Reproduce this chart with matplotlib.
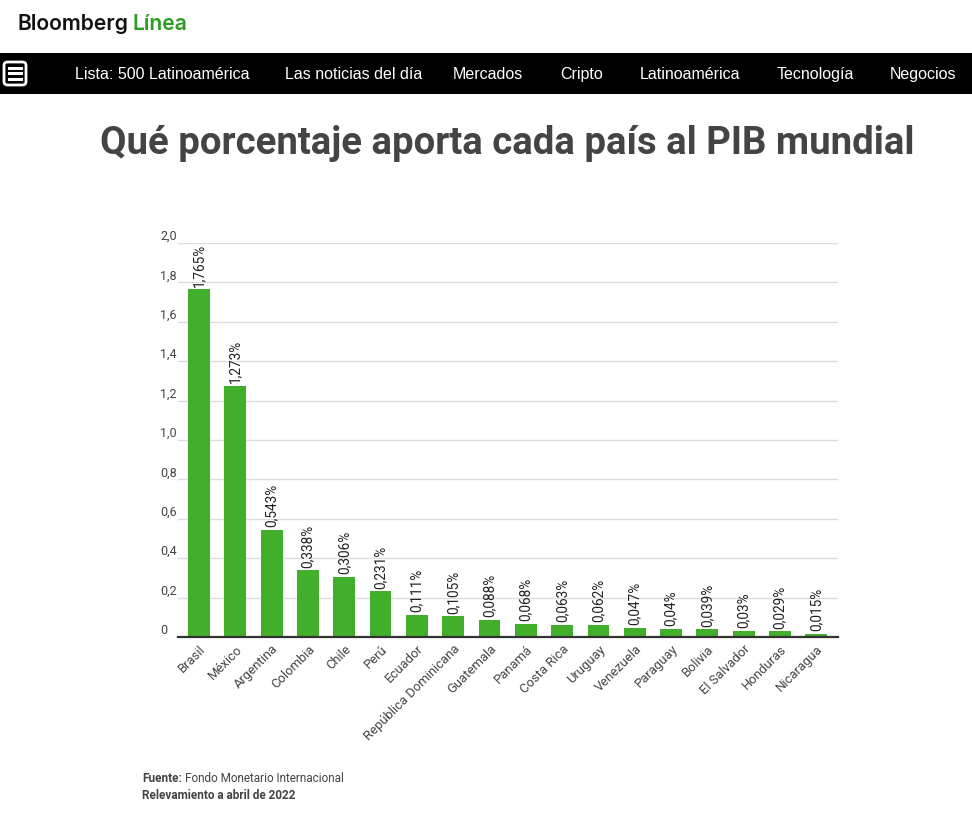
import matplotlib.pyplot as plt
from matplotlib.patches import Rectangle, FancyBboxPatch

# Data
countries = ['Brasil', 'México', 'Argentina', 'Colombia', 'Chile', 'Perú', 'Ecuador',
             'República Dominicana', 'Guatemala', 'Panamá', 'Costa Rica', 'Uruguay',
             'Venezuela', 'Paraguay', 'Bolivia', 'El Salvador', 'Honduras', 'Nicaragua']
pib_share = [1.765, 1.273, 0.543, 0.338, 0.306, 0.231, 0.111, 0.105, 0.088, 0.068,
             0.063, 0.062, 0.047, 0.04, 0.039, 0.03, 0.029, 0.015]
y_ticks = [0, 0.2, 0.4, 0.6, 0.8, 1.0, 1.2, 1.4, 1.6, 1.8, 2.0]
y_tick_labels = ['0', '0,2', '0,4', '0,6', '0,8', '1,0', '1,2', '1,4', '1,6', '1,8', '2,0']
nav_items = ['Lista: 500 Latinoamérica', 'Las noticias del día', 'Mercados', 'Cripto',
             'Latinoamérica', 'Tecnología', 'Negocios']
nav_x = [75, 285, 453, 560, 640, 777, 890]

W, H = 972, 816
fig = plt.figure(figsize=(W / 100, H / 100), dpi=100)
fig.patch.set_facecolor('white')


def fx(px):
    return px / W


def fy(py):
    return 1 - py / H


def text_after(first, gap_px, s, **kw):
    # place a second text on the same baseline, right after the first one
    renderer = fig.canvas.get_renderer()
    bb = first.get_window_extent(renderer=renderer)
    x0 = (bb.x1 + gap_px) / W
    y0 = first.get_position()[1]
    return fig.text(x0, y0, s, va='baseline', ha='left', **kw)


# header: logo
logo = fig.text(fx(17), fy(30), 'Bloomberg', fontsize=15.2, fontweight='semibold',
                family='Inter', color='#111111', va='baseline', ha='left')
text_after(logo, 5, 'Línea', fontsize=15.2, fontweight='semibold', family='Inter',
           color='#2a9d1f')

# black navigation bar
fig.add_artist(Rectangle((0, fy(94)), 1, fy(53) - fy(94), transform=fig.transFigure,
                         facecolor='black', edgecolor='none'))
fig.add_artist(FancyBboxPatch((fx(4), fy(85)), fx(22), fy(62) - fy(85),
                              boxstyle='round,pad=0,rounding_size=0.004',
                              transform=fig.transFigure, facecolor='black',
                              edgecolor='white', linewidth=2))
for ly in [67.5, 73, 78.5]:
    fig.add_artist(plt.Line2D([fx(9), fx(21)], [fy(ly), fy(ly)], transform=fig.transFigure,
                              color='white', linewidth=2.2))
for name, x in zip(nav_items, nav_x):
    fig.text(fx(x), fy(79), name, fontsize=11.5, family='Liberation Sans', color='white',
             va='baseline', ha='left')

# title
fig.text(fx(507), fy(143), 'Qué porcentaje aporta cada país al PIB mundial', fontsize=27.6,
         fontweight='bold', family='Roboto', color='#444444', ha='center', va='center')

# chart
ax = fig.add_axes([fx(178), fy(637), fx(838) - fx(178), fy(243) - fy(637)])
x = list(range(len(countries)))
bars = ax.bar(x, pib_share, width=0.6, color='#41ae2c', zorder=3)
ax.set_xlim(-0.58, 17.6)
ax.set_ylim(0, 2.0)
ax.set_yticks(y_ticks)
ax.set_yticklabels(y_tick_labels)
ax.grid(axis='y', color='#dddddd', linewidth=1, zorder=0)
for s in ['top', 'right', 'left']:
    ax.spines[s].set_visible(False)
ax.spines['bottom'].set_color('#333333')
ax.spines['bottom'].set_linewidth(1.6)
ax.spines['bottom'].set_zorder(4)
ax.tick_params(axis='y', length=0, pad=13, labelsize=9, labelcolor='#444444')
for lbl in ax.get_yticklabels():
    lbl.set_ha('left')
    lbl.set_va('bottom')
    lbl.set_family('Roboto')

ax.set_xticks(x)
ax.set_xticklabels(countries, rotation=45, ha='right', rotation_mode='anchor',
                   fontsize=9.4, color='#444444', family='Roboto')
ax.tick_params(axis='x', length=0, pad=4)

for xi, v in zip(x, pib_share):
    ax.annotate(str(v).replace('.', ',') + '%', xy=(xi, v), xytext=(0, 2),
                textcoords='offset points', rotation=90, ha='center', va='bottom',
                fontsize=9.8, family='Roboto', color='#222222')

# footer
src = fig.text(fx(142), fy(782), 'Fuente:', fontsize=8.5, fontweight='bold',
               family='Roboto', color='#444444', va='baseline', ha='left')
text_after(src, 3, 'Fondo Monetario Internacional', fontsize=8.5, family='Roboto',
           color='#444444')
fig.text(fx(142), fy(799), 'Relevamiento a abril de 2022', fontsize=8.5, fontweight='bold',
         family='Roboto', color='#444444', va='baseline', ha='left')

fig.savefig('out.png', dpi=100)
